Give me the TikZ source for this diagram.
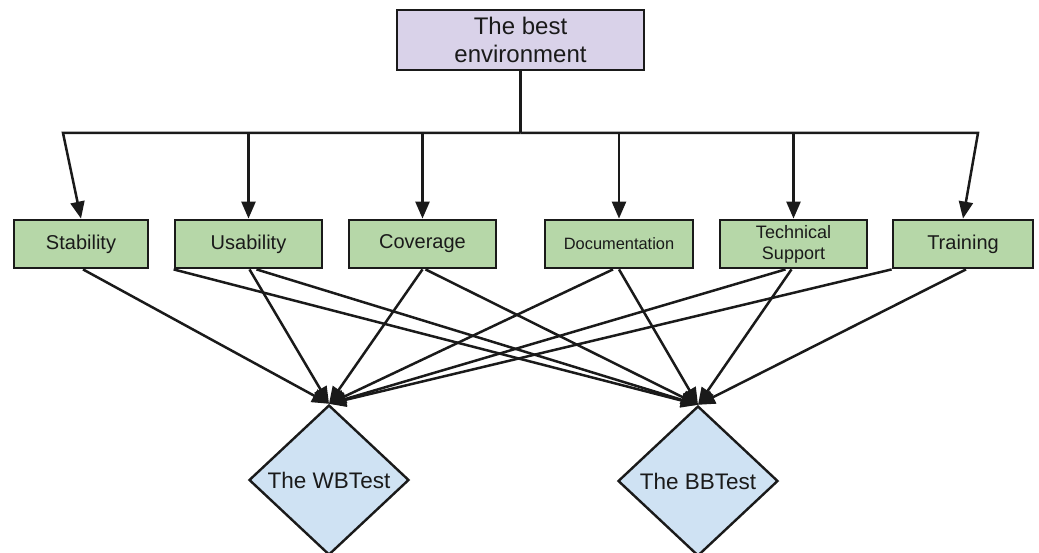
\documentclass[tikz,border=0pt]{standalone}
\usepackage{fontspec}
\setmainfont{Liberation Sans}
\usetikzlibrary{shapes.geometric,arrows.meta}
\definecolor{goalfill}{HTML}{D9D2E9}
\definecolor{critfill}{HTML}{B6D7A8}
\definecolor{testfill}{HTML}{CFE2F3}
\definecolor{ink}{HTML}{1A1A1A}
\begin{document}
\begin{tikzpicture}[x=1pt,y=-1pt,
  goal/.style={draw=ink,line width=2.8pt,fill=goalfill,minimum width=247pt,
    minimum height=60pt,inner sep=0pt,align=center,text=ink,
    font=\fontsize{24}{28}\selectfont},
  crit/.style={draw=ink,line width=2.8pt,fill=critfill,minimum height=48pt,
    inner sep=0pt,align=center,text=ink,font=\fontsize{20}{24}\selectfont},
  test/.style={diamond,draw=ink,line width=2.4pt,fill=testfill,minimum width=160pt,
    minimum height=150pt,inner sep=0pt,text=ink,font=\fontsize{22.5}{27}\selectfont},
  wire/.style={draw=ink,line width=2.5pt,line join=miter},
  link/.style={wire,-{Triangle[length=17pt,width=14pt]}}
]
\useasboundingbox (0,0) rectangle (1039,553);

% goal
\node[goal] (top) at (520.5,40) {The best\\environment};

% criteria
\node[crit,minimum width=134pt] (stab)  at (81,244)    {Stability};
\node[crit,minimum width=147pt] (usab)  at (248.5,244) {Usability};
\node[crit,minimum width=147pt] (cov)   at (422.5,244) {Coverage};
\node[crit,minimum width=148pt,font=\fontsize{16.4}{20}\selectfont] (doc) at (619,244) {Documentation};
\node[crit,minimum width=147pt,font=\fontsize{18}{21}\selectfont] (tech) at (793.5,244) {Technical\\Support};
\node[crit,minimum width=140pt] (train) at (963,244)   {Training};

% tests
\node[test] (wb) at (329,480) {The WBTest};
\node[test] (bb) at (698,481) {The BBTest};

% distribution bus
\coordinate (hub)  at (520.5,133);
\coordinate (busL) at (63,133);
\coordinate (busR) at (978,133);
\draw[wire] (top.south) -- (hub);
\draw[link] (hub) -- (busL) -- (stab.north);
\draw[link] (hub) -- (busR) -- (train.north);
\draw[link] (usab.north |- hub) -- (usab.north);
\draw[link] (cov.north |- hub) -- (cov.north);
\draw[link] (doc.north |- hub) -- (doc.north);
\draw[link] (tech.north |- hub) -- (tech.north);

% criteria to tests
\draw[link] ([xshift=2pt]stab.south) -- (wb.north);
\draw[link] ([xshift=1pt]usab.south) -- (wb.north);
\draw[link] ([xshift=8pt]usab.south) -- (bb.north);
\draw[link] (usab.south west) -- (bb.north);
\draw[link] (cov.south) -- (wb.north);
\draw[link] ([xshift=3pt]cov.south) -- (bb.north);
\draw[link] ([xshift=-6pt]doc.south) -- (wb.north);
\draw[link] (doc.south) -- (bb.north);
\draw[link] ([xshift=-8pt]tech.south) -- (wb.north);
\draw[link] ([xshift=-2pt]tech.south) -- (bb.north);
\draw[link] (train.south west) -- (wb.north);
\draw[link] ([xshift=3pt]train.south) -- (bb.north);
\end{tikzpicture}
\end{document}
